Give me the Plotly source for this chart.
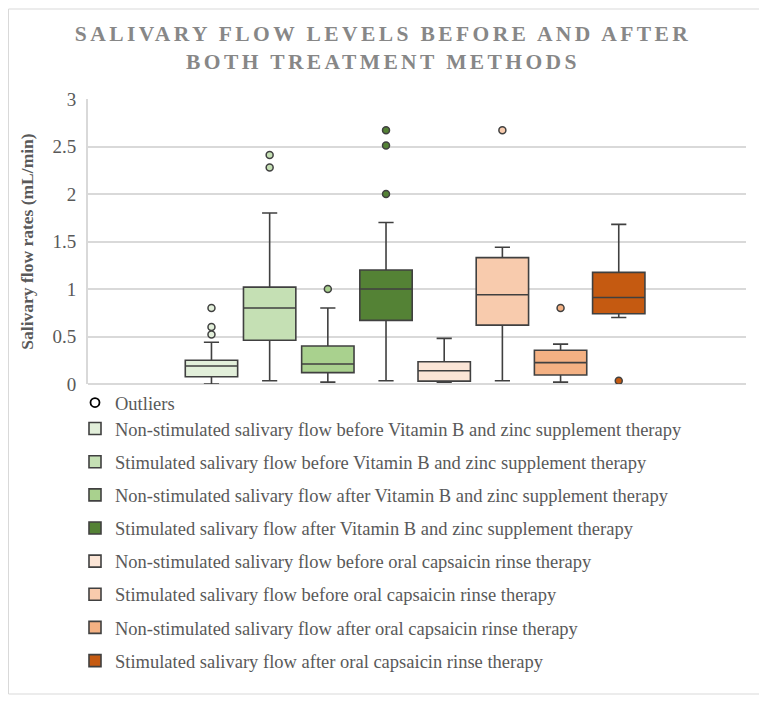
import plotly.graph_objects as go

# ---------------- data ----------------
groups = [
    "Non-stimulated salivary flow before Vitamin B and zinc supplement therapy",
    "Stimulated salivary flow before Vitamin B and zinc supplement therapy",
    "Non-stimulated salivary flow after Vitamin B and zinc supplement therapy",
    "Stimulated salivary flow after Vitamin B and zinc supplement therapy",
    "Non-stimulated salivary flow before oral capsaicin rinse therapy",
    "Stimulated salivary flow before oral capsaicin rinse therapy",
    "Non-stimulated salivary flow after oral capsaicin rinse therapy",
    "Stimulated salivary flow after oral capsaicin rinse therapy",
]
q1_vals = [0.077, 0.46, 0.12, 0.67, 0.03, 0.62, 0.095, 0.74]
median_vals = [0.19, 0.80, 0.21, 1.00, 0.14, 0.94, 0.225, 0.91]
q3_vals = [0.25, 1.02, 0.40, 1.20, 0.235, 1.33, 0.355, 1.175]
lower_whisker = [0.0, 0.035, 0.02, 0.035, 0.02, 0.035, 0.02, 0.70]
upper_whisker = [0.44, 1.80, 0.80, 1.70, 0.48, 1.44, 0.42, 1.68]
outlier_vals = [
    [0.80, 0.60, 0.52],
    [2.41, 2.28],
    [1.00],
    [2.67, 2.51, 2.00],
    [],
    [2.67],
    [0.80],
    [0.035],
]
y_ticks = [0, 0.5, 1, 1.5, 2, 2.5, 3]
y_tick_text = ["0", "0.5", "1", "1.5", "2", "2.5", "3"]

# ---------------- styling ----------------
colors = ["#E2EFDA", "#C5E0B4", "#A9D18E", "#548235",
          "#FBE5D6", "#F8CBAD", "#F4B183", "#C55A11"]
edge = "#404040"
grid = "#D9D9D9"
txt = "#595959"
FONT = "Liberation Serif"

fig = go.Figure()

# dummy legend entry for outliers
fig.add_trace(go.Scatter(
    x=[None], y=[None], mode="markers", name="Outliers",
    marker=dict(symbol="circle", size=9, color="white",
                line=dict(color="black", width=1.8)),
    legend="legend2", hoverinfo="skip",
))

for i, g in enumerate(groups):
    fig.add_trace(go.Box(
        x=[g], q1=[q1_vals[i]], median=[median_vals[i]], q3=[q3_vals[i]],
        lowerfence=[lower_whisker[i]], upperfence=[upper_whisker[i]],
        name=g, fillcolor=colors[i], line=dict(color=edge, width=1.6),
        width=0.9, whiskerwidth=0.29, boxpoints=False,
        legendgroup=f"g{i}", legend="legend",
    ))
    if outlier_vals[i]:
        fig.add_trace(go.Scatter(
            x=[g] * len(outlier_vals[i]), y=outlier_vals[i], mode="markers",
            marker=dict(symbol="circle", size=7, color=colors[i],
                        line=dict(color=edge, width=1.5)),
            showlegend=False, hoverinfo="skip",
        ))

# page is rendered with an 8px body margin -> work in page coords, shift by 8
OFF = 8
W, H = 767 - OFF, 706 - OFF
PL, PR, PT, PB = 88, 746, 99, 384          # plot area in page pixels
L, T = PL - OFF, PT - OFF
R = W - (PR - OFF)
B = H - (PB - OFF)
pw, ph = PR - PL, PB - PT

def px_x(p):   # page x -> paper
    return (p - PL) / pw

def px_y(p):   # page y -> paper
    return (PB - p) / ph

title_txt = ('<span style="letter-spacing:3.4px">SALIVARY FLOW LEVELS BEFORE AND AFTER'
             '<br>BOTH TREATMENT METHODS</span>')

fig.update_layout(
    width=W, height=H,
    margin=dict(l=L, r=R, t=T, b=B),
    paper_bgcolor="white", plot_bgcolor="white",
    title=dict(text=title_txt, x=(383 - OFF) / W, xanchor="center", xref="container",
               y=1 - 33 / H, yanchor="top", yref="container",
               font=dict(family=FONT, size=21.5, color="#878787", weight="bold")),
    showlegend=True,
    boxmode="overlay",
    legend=dict(x=px_x(75), xanchor="left", y=px_y(410), yanchor="top",
                traceorder="grouped", tracegroupgap=6.1,
                font=dict(family=FONT, size=18.5, color=txt),
                bgcolor="rgba(0,0,0,0)", itemclick=False),
    legend2=dict(x=px_x(75), xanchor="left", y=px_y(384), yanchor="top",
                 font=dict(family=FONT, size=18.5, color=txt),
                 bgcolor="rgba(0,0,0,0)"),
    xaxis=dict(type="category", categoryorder="array", categoryarray=groups,
               range=[-2.122, 9.187], showticklabels=False, showgrid=False,
               zeroline=False, showline=False, ticks=""),
    yaxis=dict(range=[0, 3], tickvals=y_ticks, ticktext=y_tick_text,
               showgrid=True, gridcolor=grid, gridwidth=1.6,
               zeroline=True, zerolinecolor=grid, zerolinewidth=1.6,
               showline=True, linecolor=grid, linewidth=2, ticks="",
               ticklabelstandoff=6,
               tickfont=dict(family=FONT, size=19, color=txt),
               title=dict(text="<b>Salivary flow rates (mL/min)</b>", standoff=14,
                          font=dict(family=FONT, size=17.5, color=txt))),
    shapes=[dict(type="rect", xref="paper", yref="paper",
                 x0=px_x(OFF + 0.5), x1=px_x(759.5), y0=px_y(694), y1=px_y(9),
                 line=dict(color="#D9D9D9", width=1), layer="below")],
)

fig.write_html("out.html")
